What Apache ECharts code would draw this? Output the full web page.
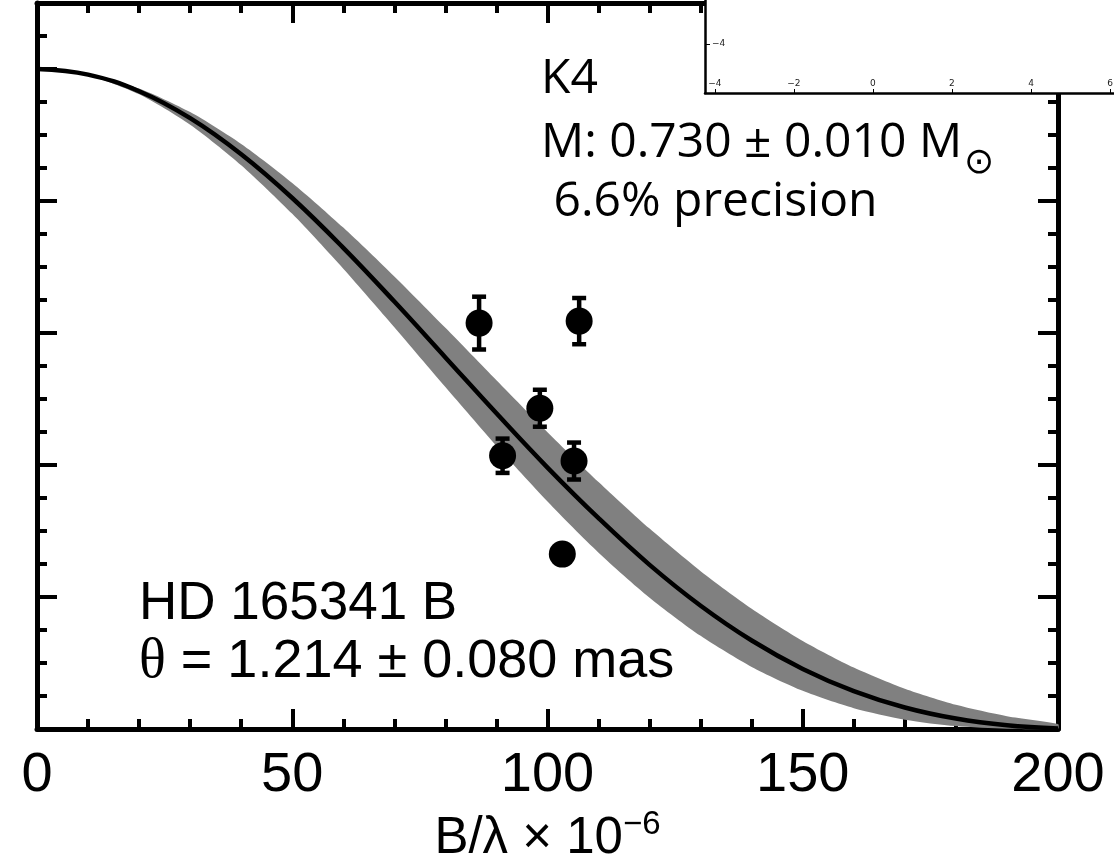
<!DOCTYPE html>
<html>
<head>
<meta charset="utf-8">
<script src="https://cdn.jsdelivr.net/npm/echarts@6/dist/echarts.min.js"></script>
<style>
  html, body { margin: 0; padding: 0; background: #fff; }
  #chart { width: 1114px; height: 866px; }
</style>
</head>
<body>
<div id="chart"></div>
<script>
// B/lambda (x 1e-6) sampled along the model curve
const baselines = [0, 10, 20, 30, 40, 50, 60, 70, 80, 90, 100, 110, 120, 130, 140, 150, 160, 170, 180, 190, 200];
// best-fit squared visibility (black line)
const modelV2 = [1.000, 0.9915, 0.9663, 0.9255, 0.8708, 0.8045, 0.7290, 0.6476, 0.5630, 0.4783, 0.3961,
  0.3194, 0.2487, 0.1868, 0.1341, 0.0910, 0.0574, 0.0326, 0.0158, 0.0056, 0.0007];
// grey uncertainty band, upper and lower edge
const bandUpper = [1.000, 0.9926, 0.9705, 0.9347, 0.8864, 0.8274, 0.7597, 0.6857, 0.6078, 0.5284, 0.4498,
  0.3743, 0.3036, 0.2392, 0.1823, 0.1335, 0.0931, 0.0610, 0.0366, 0.0193, 0.0075];
const bandLower = [1.000, 0.9903, 0.9618, 0.9157, 0.8543, 0.7805, 0.6974, 0.6088, 0.5182, 0.4291, 0.3446,
  0.2672, 0.1990, 0.1411, 0.0940, 0.0578, 0.0315, 0.0142, 0.0044, 0.0004, 0.0005];
// measured points
const obsB = [86.6, 91.2, 98.5, 102.9, 105.2, 106.2];
const obsV2 = [0.615, 0.414, 0.486, 0.265, 0.406, 0.618];
const obsErr = [0.040, 0.026, 0.028, 0.006, 0.028, 0.035];
// leftover inset from the neighbouring panel
const insetXTicks = [-4, -2, 0, 2, 4, 6];
const insetYTicks = [-4];

const chart = echarts.init(document.getElementById("chart"));

const bandRows = baselines.map((b, i) => [b, bandLower[i], bandUpper[i]]);
const modelLine = baselines.map((b, i) => [b, modelV2[i]]);
const points = obsB.map((b, i) => [b, obsV2[i]]);
const errBars = obsB.map((b, i) => [b, obsV2[i] - obsErr[i], obsV2[i] + obsErr[i]]);

const frameAxis = (extra) => Object.assign({
  type: "value",
  gridIndex: 0,
  splitLine: { show: false },
  axisLabel: { show: false },
  axisLine: { show: false, onZero: false },
}, extra);

const majorTick = { show: true, inside: true, length: 20, lineStyle: { color: "#000", width: 4 } };
const minorTick = { show: true, inside: true, length: 10, lineStyle: { color: "#000", width: 4 } };
const frameLine = { show: true, onZero: false, lineStyle: { color: "#000", width: 5 } };

const sans = "Liberation Sans, Arial, Helvetica, sans-serif";
const calib = "Open Sans, Noto Sans, sans-serif";

chart.setOption({
  animation: false,
  backgroundColor: "#fff",
  grid: [
    { left: 37, right: 56, top: 3, bottom: 137, outerBoundsMode: "none" },
    { left: 705, right: 0, top: 0, bottom: 773, outerBoundsMode: "none", show: true, backgroundColor: "#fff", borderWidth: 0, z: 10 },
  ],
  xAxis: [
    frameAxis({
      position: "bottom", min: 0, max: 200, interval: 50,
      axisLine: frameLine, axisTick: majorTick,
      axisLabel: { show: true, margin: 19, fontSize: 56, color: "#000", fontFamily: sans },
      name: "{a|B/λ × 10}{s|−6}",
      nameLocation: "middle",
      nameGap: 78,
      nameTextStyle: {
        color: "#000",
        rich: {
          a: { fontSize: 51, lineHeight: 60, fontFamily: sans, color: "#000" },
          s: { fontSize: 33, lineHeight: 33, verticalAlign: "top", fontFamily: sans, color: "#000" },
        },
      },
    }),
    frameAxis({ position: "bottom", min: 0, max: 200, interval: 10, axisTick: minorTick }),
    frameAxis({ position: "top", min: 0, max: 200, interval: 50, axisLine: frameLine, axisTick: majorTick }),
    frameAxis({ position: "top", min: 0, max: 200, interval: 10, axisTick: minorTick }),
    {
      type: "value", gridIndex: 1, position: "bottom", min: -4.25, max: 6.1, z: 11,
      splitLine: { show: false },
      axisLine: { show: true, onZero: false, lineStyle: { color: "#000", width: 2.5 } },
      axisTick: { show: true, inside: true, length: 4, customValues: insetXTicks, lineStyle: { color: "#000", width: 1 } },
      axisLabel: {
        show: true, inside: true, margin: 5, fontSize: 9, color: "#222", fontFamily: "DejaVu Sans",
        customValues: insetXTicks, formatter: (v) => String(v).replace("-", "−"),
      },
    },
  ],
  yAxis: [
    frameAxis({ position: "left", min: 0, max: 1.1, interval: 0.2, axisLine: frameLine, axisTick: majorTick }),
    frameAxis({ position: "left", min: 0, max: 1.1, interval: 0.05, axisTick: minorTick }),
    frameAxis({ position: "right", min: 0, max: 1.1, interval: 0.2, axisLine: frameLine, axisTick: majorTick }),
    frameAxis({ position: "right", min: 0, max: 1.1, interval: 0.05, axisTick: minorTick }),
    {
      type: "value", gridIndex: 1, position: "left", min: -5.24, max: -2.88, z: 11,
      splitLine: { show: false },
      axisLine: { show: true, onZero: false, lineStyle: { color: "#000", width: 2.5 } },
      axisTick: { show: true, inside: true, length: 5, customValues: insetYTicks, lineStyle: { color: "#000", width: 1 } },
      axisLabel: {
        show: true, inside: true, margin: 7, fontSize: 9, color: "#222", fontFamily: "DejaVu Sans",
        customValues: insetYTicks, formatter: (v) => String(v).replace("-", "−"),
      },
    },
  ],
  series: [
    {
      // grey band between the two edge curves, drawn once as one polygon
      type: "custom", xAxisIndex: 0, yAxisIndex: 0, z: 2,
      data: bandRows,
      renderItem: (params, api) => {
        if (params.dataIndex !== 0) return null;
        const top = bandRows.map((r) => api.coord([r[0], r[2]]));
        const bottom = bandRows.map((r) => api.coord([r[0], r[1]])).reverse();
        return {
          type: "polygon",
          shape: { points: top.concat(bottom), smooth: 0.25 },
          style: { fill: "#808080" },
        };
      },
    },
    {
      type: "line", xAxisIndex: 0, yAxisIndex: 0,
      data: modelLine, symbol: "none", smooth: 0.4,
      lineStyle: { color: "#000", width: 4.5 }, z: 3,
    },
    {
      type: "custom", xAxisIndex: 0, yAxisIndex: 0, z: 4,
      data: errBars,
      renderItem: (params, api) => {
        const lo = api.coord([api.value(0), api.value(1)]);
        const hi = api.coord([api.value(0), api.value(2)]);
        const st = { stroke: "#000", lineWidth: 4.5 };
        return {
          type: "group",
          children: [
            { type: "line", shape: { x1: lo[0], y1: lo[1], x2: hi[0], y2: hi[1] }, style: st },
            { type: "line", shape: { x1: lo[0] - 7, y1: lo[1], x2: lo[0] + 7, y2: lo[1] }, style: st },
            { type: "line", shape: { x1: hi[0] - 7, y1: hi[1], x2: hi[0] + 7, y2: hi[1] }, style: st },
          ],
        };
      },
    },
    {
      type: "scatter", xAxisIndex: 0, yAxisIndex: 0, z: 5,
      data: points, symbol: "circle", symbolSize: 27,
      itemStyle: { color: "#000", opacity: 1 },
    },
  ],
  graphic: [
    { type: "text", left: 541, top: 55, z: 20, style: { text: "K4", fontSize: 48, fontFamily: calib, fill: "#000" } },
    { type: "text", left: 541, top: 119, z: 20, style: { text: "M: 0.730 ± 0.010 M", fontSize: 48, fontFamily: calib, fill: "#000" } },
    { type: "text", left: 964, top: 146, z: 20, style: { text: "⊙", fontSize: 36, fontFamily: "DejaVu Sans", fill: "#000" } },
    { type: "text", left: 541, top: 178, z: 20, style: { text: " 6.6% precision", fontSize: 48, fontFamily: calib, fill: "#000" } },
    { type: "text", left: 139, top: 578, z: 20, style: { text: "HD 165341 B", fontSize: 53, fontFamily: sans, fill: "#000" } },
    {
      type: "text", left: 139, top: 634, z: 20,
      style: {
        text: "{t|θ}{r| = 1.214 ± 0.080 mas}",
        rich: {
          t: { fontSize: 56, fontFamily: "Liberation Serif, serif", color: "#000" },
          r: { fontSize: 54, fontFamily: sans, color: "#000" },
        },
      },
    },
  ],
});
</script>
</body>
</html>
